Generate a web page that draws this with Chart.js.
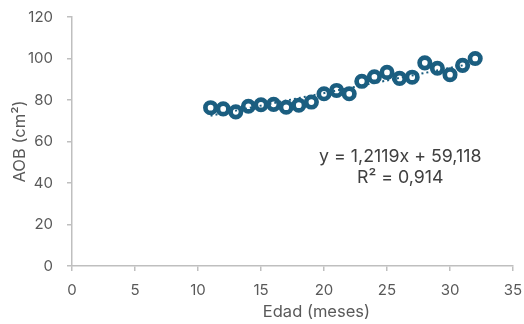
<!DOCTYPE html>
<html>
<head>
<meta charset="utf-8">
<script src="https://cdn.jsdelivr.net/npm/chart.js@4/dist/chart.umd.min.js"></script>
<style>
  html, body { margin: 0; padding: 0; background: #ffffff; }
  #wrap { width: 524px; height: 324px; position: relative; }
</style>
</head>
<body>
<div id="wrap"><canvas id="c" width="524" height="324"></canvas></div>
<script>
// Age in months and measured AOB (cm²)
const edadMeses = [11, 12, 13, 14, 15, 16, 17, 18, 19, 20, 21, 22, 23, 24, 25, 26, 27, 28, 29, 30, 31, 32];
const aobCm2 = [76.3, 75.7, 74.3, 77.0, 77.7, 77.9, 76.5, 77.5, 79.0, 83.0, 84.6, 83.0,
                89.0, 91.2, 93.3, 90.4, 91.0, 97.9, 95.3, 92.2, 96.7, 100.0];

// Linear trend as stated on the chart
const trendSlope = 1.2119;
const trendIntercept = 59.118;
const trendLabel = 'y = 1,2119x + 59,118';
const r2Label = 'R² = 0,914';

const xTitle = 'Edad (meses)';
const yTitle = 'AOB (cm²)';
const xTicks = [0, 5, 10, 15, 20, 25, 30, 35];
const yTicks = [0, 20, 40, 60, 80, 100, 120];

const points = edadMeses.map((x, i) => ({ x: x, y: aobCm2[i] }));
const xFirst = edadMeses[0], xLast = edadMeses[edadMeses.length - 1];
const trendPoints = [
  { x: xFirst, y: trendIntercept + trendSlope * xFirst },
  { x: xLast, y: trendIntercept + trendSlope * xLast }
];

const BLUE = '#1b5e80';
const AXIS = '#bfbfbf';
const TICK_TXT = '#595959';
const FONT = 'Inter, "Liberation Sans", Arial, sans-serif';

// Equation text and the horizontal axis title
const textPlugin = {
  id: 'extraText',
  afterDatasetsDraw(chart) {
    const ctx = chart.ctx;
    const xs = chart.scales.x, ys = chart.scales.y;
    const cx = xs.getPixelForValue(26.05);
    ctx.save();
    ctx.fillStyle = '#404040';
    ctx.font = '17.8px ' + FONT;
    ctx.textAlign = 'center';
    ctx.textBaseline = 'middle';
    ctx.fillText(trendLabel, cx, ys.getPixelForValue(52.6));
    ctx.fillText(r2Label, cx, ys.getPixelForValue(42.4));
    ctx.fillStyle = TICK_TXT;
    ctx.font = '16.5px ' + FONT;
    ctx.textBaseline = 'alphabetic';
    ctx.fillText(xTitle, xs.getPixelForValue(19.4), chart.height - 7);
    ctx.restore();
  }
};

// Let the layout padding alone decide the plot area edges
function noScalePadding(s) {
  s.paddingTop = 0; s.paddingBottom = 0; s.paddingLeft = 0; s.paddingRight = 0;
}

new Chart(document.getElementById('c'), {
  type: 'scatter',
  data: {
    datasets: [
      {
        label: 'Tendencia',
        type: 'line',
        data: trendPoints,
        borderColor: BLUE,
        borderWidth: 2,
        borderDash: [2, 3],
        pointRadius: 0,
        fill: false,
        order: 0
      },
      {
        label: 'AOB',
        data: points,
        pointStyle: 'circle',
        pointRadius: 5.2,
        pointBorderWidth: 4.7,
        pointBackgroundColor: '#ffffff',
        pointBorderColor: BLUE,
        order: 1
      }
    ]
  },
  options: {
    responsive: false,
    animation: false,
    devicePixelRatio: 1,
    layout: { padding: { left: 0, top: 17, right: 11, bottom: 0 } },
    plugins: {
      legend: { display: false },
      tooltip: { enabled: false }
    },
    scales: {
      x: {
        type: 'linear',
        min: 0, max: 35,
        afterBuildTicks(s) { s.ticks = xTicks.map(v => ({ value: v })); },
        afterFit(s) { s.height = 324 - 266; noScalePadding(s); },
        border: { display: true, color: AXIS, width: 1.5 },
        grid: { display: true, drawOnChartArea: false, drawTicks: true, tickLength: 5, color: AXIS, lineWidth: 1.5 },
        ticks: { color: TICK_TXT, font: { family: FONT, size: 15 }, padding: 10, maxRotation: 0 },
        title: { display: false }
      },
      y: {
        type: 'linear',
        min: 0, max: 120,
        afterBuildTicks(s) { s.ticks = yTicks.map(v => ({ value: v })); },
        afterFit(s) { s.width = 72; noScalePadding(s); },
        border: { display: true, color: AXIS, width: 1.5 },
        grid: { display: true, drawOnChartArea: false, drawTicks: true, tickLength: 5, color: AXIS, lineWidth: 1.5 },
        ticks: { color: TICK_TXT, font: { family: FONT, size: 15 }, padding: 14 },
        title: { display: true, text: yTitle, color: TICK_TXT, font: { family: FONT, size: 16.5 }, padding: { top: 10, bottom: 0 } }
      }
    }
  },
  plugins: [textPlugin]
});
</script>
</body>
</html>
